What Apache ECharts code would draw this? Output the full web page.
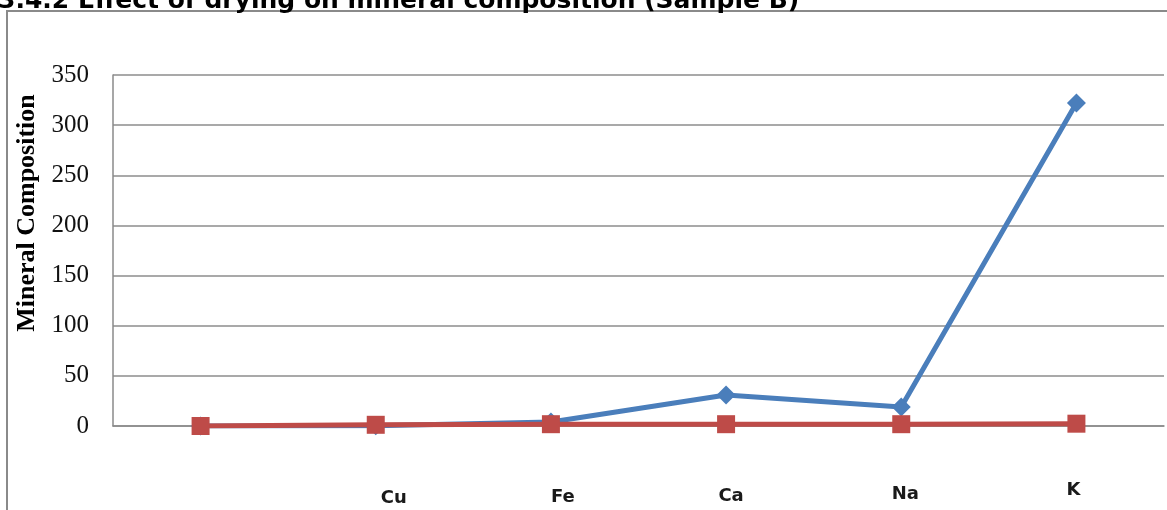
<!DOCTYPE html>
<html>
<head>
<meta charset="utf-8">
<script src="https://cdn.jsdelivr.net/npm/echarts@6/dist/echarts.min.js"></script>
<style>
  html, body { margin: 0; padding: 0; background: #fff; }
  #chart { width: 1167px; height: 510px; }
</style>
</head>
<body>
<div id="chart"></div>
<script>
// Mineral composition of sample B, fresh vs dried
const categories = ['', 'Cu', 'Fe', 'Ca', 'Na', 'K'];
const seriesA = [0, 0.3, 4, 31, 19, 322];
const seriesB = [0, 1.2, 1.8, 1.8, 1.8, 2.3];
const yTicks = { min: 0, max: 350, interval: 50 };

// small per-label nudges of the category text [dx, dy]
const labelNudge = [[0, 0], [18, 8], [12, 7], [5, 6], [4, 4], [-3, 0]];

const titleText = '3.4.2 Effect of drying on mineral composition (Sample B)';
const yName = 'Mineral Composition';

const axisData = categories.map((c, i) => {
  const [dx, dy] = labelNudge[i];
  return {
    value: c,
    textStyle: {
      padding: [dy, dx < 0 ? -2 * dx : 0, 0, dx > 0 ? 2 * dx : 0]
    }
  };
});

const chart = echarts.init(document.getElementById('chart'), null, { renderer: 'canvas' });
chart.setOption({
  animation: false,
  backgroundColor: '#ffffff',
  grid: { left: 113, right: 3, top: 75, bottom: 84 },
  xAxis: {
    type: 'category',
    data: axisData,
    boundaryGap: true,
    axisLine: { show: true, lineStyle: { color: '#8a8a8a', width: 1.5 } },
    axisTick: { show: false },
    axisLabel: {
      margin: 55,
      interval: 0,
      fontFamily: 'DejaVu Sans',
      fontWeight: 'bold',
      fontSize: 18,
      color: '#1a1a1a'
    },
    splitLine: { show: false }
  },
  yAxis: {
    type: 'value',
    min: yTicks.min,
    max: yTicks.max,
    interval: yTicks.interval,
    axisLine: { show: true, lineStyle: { color: '#8a8a8a', width: 1.5 } },
    axisTick: { show: false },
    axisLabel: {
      margin: 24,
      fontFamily: 'Liberation Serif',
      fontSize: 25,
      color: '#111'
    },
    splitLine: { show: true, lineStyle: { color: '#8c8c8c', width: 1.5 } }
  },
  graphic: [
    {
      type: 'rect',
      shape: { x: 7, y: 11, width: 1300, height: 600 },
      style: { fill: 'none', stroke: '#8a8a8a', lineWidth: 2 },
      silent: true,
      z: -1
    },
    {
      type: 'text',
      x: -2,
      y: -11,
      style: {
        text: titleText,
        font: 'bold 25px "DejaVu Sans"',
        fill: '#000',
        verticalAlign: 'top'
      }
    },
    {
      type: 'text',
      x: 27,
      y: 213,
      rotation: Math.PI / 2,
      style: {
        text: yName,
        font: 'bold 26px "Liberation Serif"',
        fill: '#000',
        align: 'center',
        verticalAlign: 'middle'
      }
    }
  ],
  series: [
    {
      type: 'line',
      data: seriesA,
      symbol: 'diamond',
      symbolSize: 19,
      lineStyle: { color: '#4a7ebb', width: 5 },
      itemStyle: { color: '#4a7ebb' },
      z: 2
    },
    {
      type: 'line',
      data: seriesB,
      symbol: 'rect',
      symbolSize: 18,
      lineStyle: { color: '#be4b48', width: 5 },
      itemStyle: { color: '#be4b48' },
      z: 3
    }
  ]
});
</script>
</body>
</html>
